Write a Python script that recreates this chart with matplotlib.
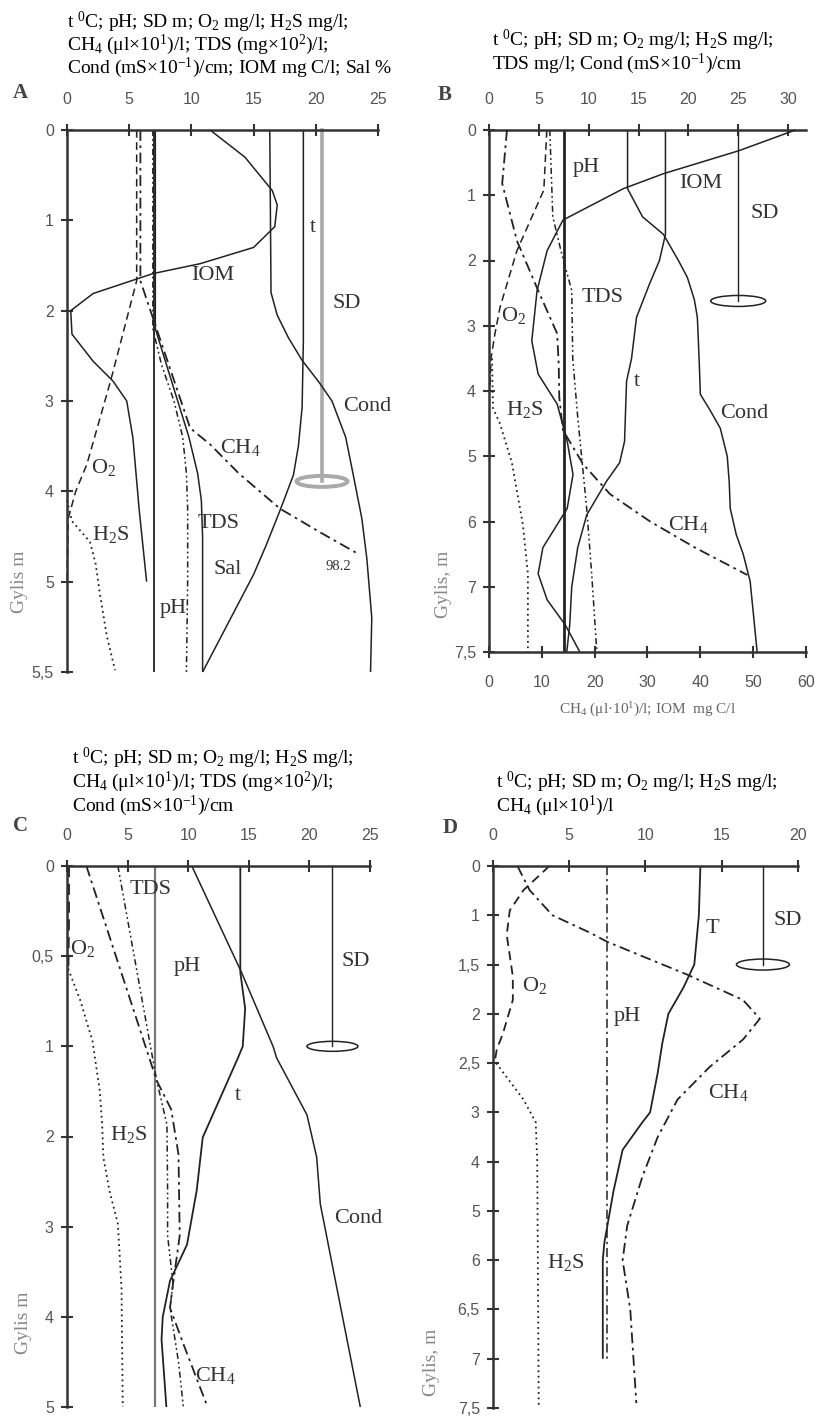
import numpy as np
import matplotlib
matplotlib.use("Agg")
import matplotlib.pyplot as plt
from matplotlib.patches import Ellipse
from matplotlib.transforms import ScaledTranslation

plt.rcParams['font.family'] = ['Liberation Serif', 'DejaVu Serif']
plt.rcParams['mathtext.fontset'] = 'custom'
plt.rcParams['mathtext.rm'] = 'Liberation Serif'
plt.rcParams['mathtext.it'] = 'Liberation Serif:italic'
plt.rcParams['mathtext.bf'] = 'Liberation Serif:bold'

# ---------------- DATA ----------------
# Panel A
A_pH_d = [0, 5.5]; A_pH = [7.0, 7.0]
A_O2_d = [0, 1.67, 2.78, 3.7, 4.0, 4.3, 5.0]; A_O2 = [5.6, 5.6, 3.5, 1.6, 0.7, 0.1, 0.0]
A_H2S_d = [4.1, 4.33, 4.56, 4.8, 5.07, 5.3, 5.49]; A_H2S = [0.0, 0.4, 1.85, 2.3, 2.65, 3.2, 3.86]
A_CH4_d = [0, 1.67, 3.3, 3.48, 3.8, 4.19, 4.45, 4.7]; A_CH4 = [5.9, 5.9, 9.9, 11.5, 13.8, 17.1, 20.3, 23.5]
A_TDS_d = [0, 2.2, 2.6, 3.0, 3.4, 3.8, 4.2, 4.6, 5.0, 5.5]; A_TDS = [6.9, 6.9, 7.6, 8.6, 9.3, 9.6, 9.7, 9.7, 9.7, 9.6]
A_Sal_d = [0, 2.2, 2.6, 3.0, 3.4, 3.8, 4.1, 4.5, 5.5]; A_Sal = [7.1, 7.1, 8.0, 8.9, 9.8, 10.5, 10.8, 10.9, 10.9]
A_IOM_d = [0, 0.3, 0.67, 0.83, 1.07, 1.3, 1.48, 1.59, 1.81, 2.0, 2.26, 2.56, 2.78, 3.0, 3.41, 4.2, 5.0]
A_IOM = [11.5, 14.3, 16.5, 16.9, 16.7, 15.0, 10.7, 6.9, 2.1, 0.3, 0.4, 2.1, 3.7, 4.8, 5.3, 5.8, 6.4]
A_t_d = [0, 2.33, 3.07, 3.5, 3.82, 4.22, 4.6, 4.92, 5.5]; A_t = [19.0, 19.0, 18.9, 18.6, 18.2, 17.1, 16.0, 15.0, 10.9]
A_Cond_d = [0, 1.8, 2.05, 2.3, 2.55, 2.8, 3.0, 3.4, 3.81, 4.3, 4.74, 5.2, 5.5]
A_Cond = [16.3, 16.4, 16.9, 17.8, 18.9, 20.3, 21.3, 22.4, 23.0, 23.7, 24.1, 24.5, 24.4]
A_SD = 20.5; A_SD_depth = 3.89

# Panel B (top scale: t, pH, SD, O2, H2S, TDS, Cond ; bottom scale: CH4, IOM)
B_pH_d = [0, 7.5]; B_pH = [7.5, 7.5]
B_Cond_d = [0, 0.9, 1.33, 1.6, 2.0, 2.26, 2.6, 2.87, 3.23, 3.6, 4.05, 4.3, 4.57, 5.0, 5.4, 5.8, 6.2, 6.5, 6.92, 7.5]
B_Cond = [13.9, 13.9, 15.4, 17.5, 19.0, 19.9, 20.6, 20.9, 21.0, 21.1, 21.2, 22.2, 23.2, 23.9, 24.1, 24.2, 24.8, 25.5, 26.2, 26.9]
B_t_d = [0, 1.6, 2.0, 2.36, 2.87, 3.5, 3.85, 4.3, 4.77, 5.1, 5.38, 5.9, 6.4, 7.0, 7.29, 7.5]
B_t = [17.7, 17.7, 17.1, 16.1, 14.8, 14.3, 13.8, 13.7, 13.6, 13.1, 11.8, 9.8, 8.9, 8.3, 8.1, 7.8]
B_O2_d = [0, 0.92, 1.85, 2.72, 3.12, 3.5, 4.0]; B_O2 = [5.8, 5.5, 2.8, 1.1, 0.6, 0.2, 0.1]
B_H2S_d = [3.5, 4.26, 4.5, 5.1, 6.05, 6.8, 7.5]; B_H2S = [0.3, 0.4, 1.1, 2.3, 3.4, 3.9, 3.9]
B_TDS_d = [0, 1.33, 1.9, 2.46, 3.5, 4.4, 5.8, 6.8, 7.48]; B_TDS = [6.1, 6.4, 7.3, 8.3, 8.4, 8.9, 9.8, 10.3, 10.8]
B_SD = 25.0; B_SD_depth = 2.62
B_IOM_d = [0, 0.32, 0.67, 0.9, 1.38, 1.85, 2.46, 3.23, 3.74, 4.2, 4.77, 5.28, 5.8, 6.4, 6.8, 7.1, 7.29, 7.5]
B_IOM = [58.0, 47.2, 33.0, 25.4, 14.0, 11.0, 9.1, 8.1, 9.3, 12.9, 14.8, 15.9, 14.8, 10.2, 9.3, 11.0, 14.4, 17.2]
B_CH4_d = [0, 0.82, 1.7, 2.46, 3.12, 3.6, 4.1, 4.6, 5.12, 5.58, 6.0, 6.4, 6.82]
B_CH4 = [3.4, 2.5, 5.3, 9.3, 12.9, 13.2, 13.3, 14.0, 17.8, 22.9, 30.5, 39.0, 48.9]

# Panel C
C_pH_d = [0, 5.0]; C_pH = [7.3, 7.3]
C_t_d = [0, 0.59, 0.79, 1.0, 1.13, 2.01, 2.6, 3.2, 3.6, 4.0, 4.25, 5.0]
C_t = [14.3, 14.3, 14.7, 14.5, 14.1, 11.2, 10.7, 9.9, 8.5, 7.9, 7.8, 8.2]
C_Cond_d = [0, 0.59, 1.0, 1.13, 1.76, 2.23, 2.75, 5.0]; C_Cond = [10.3, 14.4, 17.0, 17.3, 19.8, 20.6, 20.9, 24.2]
C_O2_d = [0, 0.3, 0.57]; C_O2 = [0.15, 0.15, 0.1]
C_H2S_d = [0.57, 0.74, 0.97, 1.49, 1.87, 2.23, 2.6, 2.97, 3.69, 5.0]
C_H2S = [0.1, 1.07, 2.1, 2.7, 2.9, 3.0, 3.5, 4.2, 4.5, 4.6]
C_CH4_d = [0, 1.38, 1.7, 2.2, 3.1, 3.63, 3.9, 4.3, 5.0]; C_CH4 = [1.6, 7.4, 8.6, 9.2, 9.3, 8.75, 8.5, 9.6, 11.6]
C_TDS_d = [0, 1.38, 1.87, 2.6, 3.1, 3.63, 3.9, 4.5, 5.0]; C_TDS = [4.2, 7.4, 8.25, 8.3, 8.3, 8.75, 8.5, 9.2, 9.6]
C_SD = 21.9; C_SD_depth = 1.0

# Panel D
D_pH_d = [0, 7.0]; D_pH = [7.5, 7.5]
D_T_d = [0, 1.0, 1.5, 1.73, 2.0, 2.3, 2.6, 3.0, 3.2, 3.76, 4.6, 5.65, 6.0, 7.0]
D_T = [13.6, 13.5, 13.2, 12.5, 11.5, 11.1, 10.8, 10.3, 9.8, 8.5, 7.9, 7.3, 7.2, 7.2]
D_CH4_d = [0, 0.49, 1.0, 1.18, 1.27, 1.6, 1.86, 2.05, 2.26, 2.54, 2.87, 3.5, 4.3, 5.3, 6.0, 6.5, 7.45]
D_CH4 = [1.6, 2.4, 3.9, 6.4, 7.5, 12.7, 16.4, 17.5, 16.4, 14.2, 12.1, 10.8, 9.8, 8.8, 8.5, 9.0, 9.4]
D_O2_d = [0, 0.49, 0.9, 1.2, 1.62, 1.86, 2.2, 2.36, 2.5]; D_O2 = [3.7, 2.0, 1.1, 0.9, 1.3, 1.3, 0.65, 0.25, 0.1]
D_H2S_d = [2.5, 2.87, 3.2, 3.96, 7.5]; D_H2S = [0.2, 2.0, 2.8, 2.9, 3.0]
D_SD = 17.7; D_SD_depth = 1.5

# tick definitions
A_xticks = [0, 5, 10, 15, 20, 25]
A_yticks = [0, 1, 2, 3, 4, 5, 5.5]; A_ylabels = ['0', '1', '2', '3', '4', '5', '5,5']
B_xticks = [0, 5, 10, 15, 20, 25, 30]; B_xticks2 = [0, 10, 20, 30, 40, 50, 60]
B_yticks = [0, 1, 2, 3, 4, 5, 6, 7, 7.5]; B_ylabels = ['0', '1', '2', '3', '4', '5', '6', '7', '7,5']
C_xticks = [0, 5, 10, 15, 20, 25]
C_yticks = [0, 0.5, 1, 2, 3, 4, 5]; C_ylabels = ['0', '0,5', '1', '2', '3', '4', '5']
D_xticks = [0, 5, 10, 15, 20]
D_yticks = [0, 1, 1.5, 2, 2.5, 3, 4, 5, 6, 6.5, 7, 7.5]
D_ylabels = ['0', '1', '1,5', '2', '2,5', '3', '4', '5', '6', '6,5', '7', '7,5']

# ---------------- FIGURE ----------------
W, H, DPI = 823, 1416, 100
fig = plt.figure(figsize=(W / DPI, H / DPI), dpi=DPI)
fig.patch.set_facecolor('white')

LC = '#222222'
SPC = '#333333'
TLC = '#555555'
TICKSIZE = 11.5
LABSIZE = 16


def add_ax(l, r, t, b):
    return fig.add_axes([l / W, 1 - b / H, (r - l) / W, (b - t) / H])


def make_funcs(ticks):
    t = np.asarray(ticks, float)
    p = np.arange(len(t), dtype=float)

    def fwd(d):
        d = np.asarray(d, float)
        out = np.interp(d, t, p)
        lo = d < t[0]; hi = d > t[-1]
        out = np.where(lo, p[0] + (d - t[0]) * (p[1] - p[0]) / (t[1] - t[0]), out)
        out = np.where(hi, p[-1] + (d - t[-1]) * (p[-1] - p[-2]) / (t[-1] - t[-2]), out)
        return out

    def inv(q):
        q = np.asarray(q, float)
        out = np.interp(q, p, t)
        lo = q < p[0]; hi = q > p[-1]
        out = np.where(lo, t[0] + (q - p[0]) * (t[1] - t[0]) / (p[1] - p[0]), out)
        out = np.where(hi, t[-1] + (q - p[-1]) * (t[-1] - t[-2]) / (p[-1] - p[-2]), out)
        return out
    return fwd, inv


def setup(ax, xticks, xlim, yticks, ylabels):
    fwd, inv = make_funcs(yticks)
    ax.set_yscale('function', functions=(fwd, inv))
    ax.set_ylim(yticks[-1], yticks[0])
    ax.set_yticks(yticks)
    ax.set_yticklabels(ylabels)
    ax.set_xlim(*xlim)
    ax.set_xticks(xticks)
    ax.xaxis.set_ticks_position('top')
    for s in ['right', 'bottom']:
        ax.spines[s].set_visible(False)
    for s in ['left', 'top']:
        ax.spines[s].set_linewidth(1.8)
        ax.spines[s].set_color(SPC)
    ax.tick_params(axis='both', which='major', direction='inout', length=9, width=1.5,
                   color=SPC, labelsize=TICKSIZE, labelcolor=TLC, labelfontfamily='Liberation Sans')
    ax.tick_params(axis='x', pad=12)
    ax.tick_params(axis='y', pad=5)
    ax.patch.set_alpha(0)


def curve(ax, vals, depths, ls='-', lw=1.1, color=LC):
    ax.plot(vals, depths, ls=ls, lw=lw, color=color, clip_on=False, solid_capstyle='butt')


def sd(ax, x, depth, wpx, hpx, color=LC, lw=1.0):
    ax.plot([x, x], [0, depth], color=color, lw=lw, clip_on=False)
    tr = fig.dpi_scale_trans + ScaledTranslation(x, depth, ax.transData)
    e = Ellipse((0, 0), wpx / DPI, hpx / DPI, transform=tr, fill=False, ec=color, lw=lw * 1.1)
    ax.add_artist(e)


def lab(ax, x, d, s, size=LABSIZE, color='#333333'):
    ax.text(x, d, s, ha='center', va='center', fontsize=size, color=color)


DASH = (0, (5, 3))
DOT = (0, (1, 2))
DASHDOT = (0, (6, 2.5, 1.5, 2.5))
DDOT = (0, (4, 2, 1.2, 2, 1.2, 2))

# ---------- Panel A ----------
axA = add_ax(67, 378, 130, 672)
setup(axA, A_xticks, (0, 25), A_yticks, A_ylabels)
sd(axA, A_SD, A_SD_depth, 51, 11, color='#aaaaaa', lw=2.6)
curve(axA, A_pH, A_pH_d, '-', 1.3)
curve(axA, A_O2, A_O2_d, DASH)
curve(axA, A_H2S, A_H2S_d, DOT, 1.3)
curve(axA, A_CH4, A_CH4_d, DASHDOT, 1.3)
curve(axA, A_TDS, A_TDS_d, DDOT)
curve(axA, A_Sal, A_Sal_d, '-')
curve(axA, A_IOM, A_IOM_d, '-')
curve(axA, A_t, A_t_d, '-')
curve(axA, A_Cond, A_Cond_d, '-')
lab(axA, 11.7, 1.61, 'IOM')
lab(axA, 19.8, 1.08, 't')
lab(axA, 22.5, 1.92, 'SD')
lab(axA, 24.1, 3.06, 'Cond')
lab(axA, 13.9, 3.52, 'CH$_4$')
lab(axA, 2.9, 3.74, 'O$_2$')
lab(axA, 3.5, 4.48, 'H$_2$S')
lab(axA, 12.2, 4.36, 'TDS')
lab(axA, 12.9, 4.87, 'Sal')
lab(axA, 8.5, 5.15, 'pH')
lab(axA, 21.8, 4.83, '98.2', size=10.5)

# ---------- Panel B ----------
axB = add_ax(489, 806, 130, 652)
setup(axB, B_xticks, (0, 31.8), B_yticks, B_ylabels)
axB2 = axB.twiny()
# twiny moves the parent's ticks to the bottom: restore them to the top
axB.xaxis.set_ticks_position('top')
axB.tick_params(axis='x', labeltop=True, labelbottom=False)
axB2.set_xlim(0, 60)
axB2.set_xticks(B_xticks2)
axB2.xaxis.set_ticks_position('bottom')
axB2.xaxis.set_label_position('bottom')
axB2.tick_params(axis='x', labelbottom=True, labeltop=False)
for s in ['top', 'right', 'left']:
    axB2.spines[s].set_visible(False)
axB2.spines['bottom'].set_visible(True)
axB2.spines['bottom'].set_linewidth(1.8)
axB2.spines['bottom'].set_color(SPC)
axB2.tick_params(axis='x', direction='inout', length=9, width=1.5, color=SPC, labelsize=TICKSIZE,
                 labelcolor=TLC, labelfontfamily='Liberation Sans', pad=12)
sd(axB, B_SD, B_SD_depth, 55, 11)
curve(axB, B_pH, B_pH_d, '-', 2.0)
curve(axB, B_Cond, B_Cond_d, '-')
curve(axB, B_t, B_t_d, '-')
curve(axB, B_O2, B_O2_d, DASH)
curve(axB, B_H2S, B_H2S_d, DOT, 1.3)
curve(axB, B_TDS, B_TDS_d, DDOT)
curve(axB2, B_IOM, B_IOM_d, '-')
curve(axB2, B_CH4, B_CH4_d, DASHDOT, 1.3)
lab(axB, 9.8, 0.57, 'pH')
lab(axB, 21.2, 0.82, 'IOM')
lab(axB, 27.7, 1.28, 'SD')
lab(axB, 11.4, 2.57, 'TDS')
lab(axB, 2.5, 2.85, 'O$_2$')
lab(axB, 14.8, 3.85, 't')
lab(axB, 3.6, 4.28, 'H$_2$S')
lab(axB, 25.6, 4.35, 'Cond')
lab(axB, 20.0, 6.05, 'CH$_4$')
axB2.set_xlabel('CH$_4$ (μl·10$^1$)/l; IOM  mg C/l', fontsize=11, color='#666666', labelpad=8)

# ---------- Panel C ----------
axC = add_ax(67, 370, 866, 1407)
setup(axC, C_xticks, (0, 25), C_yticks, C_ylabels)
sd(axC, C_SD, C_SD_depth, 51, 10)
curve(axC, C_pH, C_pH_d, '-', 1.6, color='#777777')
curve(axC, C_t, C_t_d, '-', 1.3)
curve(axC, C_Cond, C_Cond_d, '-')
curve(axC, C_O2, C_O2_d, DASH, 1.6)
curve(axC, C_H2S, C_H2S_d, DOT, 1.3)
curve(axC, C_CH4, C_CH4_d, DASHDOT, 1.3)
curve(axC, C_TDS, C_TDS_d, DDOT)
lab(axC, 6.9, 0.13, 'TDS')
lab(axC, 1.3, 0.46, 'O$_2$')
lab(axC, 9.9, 0.56, 'pH')
lab(axC, 23.8, 0.53, 'SD')
lab(axC, 14.1, 1.55, 't')
lab(axC, 5.1, 1.98, 'H$_2$S')
lab(axC, 24.0, 2.91, 'Cond')
lab(axC, 12.2, 4.65, 'CH$_4$')

# ---------- Panel D ----------
axD = add_ax(493, 798, 866, 1408)
setup(axD, D_xticks, (0, 20), D_yticks, D_ylabels)
sd(axD, D_SD, D_SD_depth, 53, 11)
curve(axD, D_pH, D_pH_d, DASHDOT)
curve(axD, D_T, D_T_d, '-', 1.3)
curve(axD, D_CH4, D_CH4_d, DASHDOT, 1.3)
curve(axD, D_O2, D_O2_d, DASH, 1.3)
curve(axD, D_H2S, D_H2S_d, DOT, 1.3)
lab(axD, 14.4, 1.13, 'T')
lab(axD, 19.3, 1.05, 'SD')
lab(axD, 2.7, 1.71, 'O$_2$')
lab(axD, 8.8, 2.03, 'pH')
lab(axD, 15.4, 2.8, 'CH$_4$')
lab(axD, 4.8, 6.02, 'H$_2$S')

# ---------- titles / letters / depth labels ----------
L1 = 't $^0$C; pH; SD m; O$_2$ mg/l; H$_2$S mg/l;'
L_CH4 = 'CH$_4$ (μl×10$^1$)/l; TDS (mg×10$^2$)/l;'


def ftext(x, y, s, **kw):
    fig.text(x / W, 1 - y / H, s, **kw)


TS = 14
for y, s in zip([22, 45, 68], [L1, L_CH4, 'Cond (mS×10$^{-1}$)/cm; IOM mg C/l; Sal %']):
    ftext(67, y, s, fontsize=TS, va='center', ha='left', color='black')
for y, s in zip([40, 64], [L1, 'TDS mg/l; Cond (mS×10$^{-1}$)/cm']):
    ftext(492, y, s, fontsize=TS, va='center', ha='left', color='black')
for y, s in zip([758, 782, 806], [L1, L_CH4, 'Cond (mS×10$^{-1}$)/cm']):
    ftext(72, y, s, fontsize=TS, va='center', ha='left', color='black')
for y, s in zip([782, 806], [L1, 'CH$_4$ (μl×10$^1$)/l']):
    ftext(496, y, s, fontsize=TS, va='center', ha='left', color='black')

for x, y, s in [(20, 93, 'A'), (445, 95, 'B'), (21, 826, 'C'), (450, 828, 'D')]:
    ftext(x, y, s, fontsize=15, fontweight='bold', color='#444444', va='center', ha='center')

for x, y, s in [(20, 582, 'Gylis m'), (443, 584, 'Gylis, m'), (24, 1323, 'Gylis m'), (432, 1362, 'Gylis, m')]:
    ftext(x, y, s, fontsize=14, color='#888888', rotation=90, va='center', ha='center')

fig.savefig('out.png', dpi=DPI, facecolor='white')
